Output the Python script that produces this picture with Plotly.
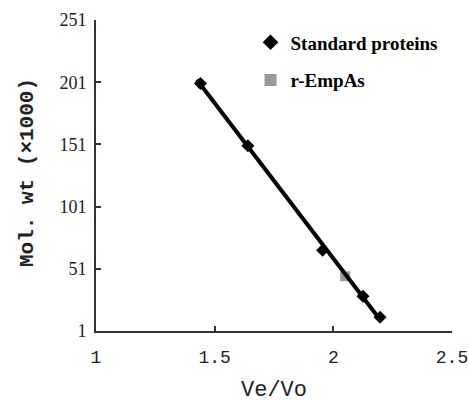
import numpy as np
import plotly.graph_objects as go

# Data
std_x = [1.44, 1.64, 1.955, 2.125, 2.197]
std_y = [200, 150, 66, 29, 12]
samp_x = [2.05]
samp_y = [45]
x_ticks = [1, 1.5, 2, 2.5]
y_ticks = [1, 51, 101, 151, 201, 251]

# linear fit through standard proteins
coef = np.polyfit(std_x, std_y, 1)
fit_x = np.array([min(std_x) - 0.015, max(std_x) + 0.005])
fit_y = np.polyval(coef, fit_x)

fig = go.Figure()
fig.add_trace(go.Scatter(x=std_x, y=std_y, mode="markers", name="Standard proteins",
                         legendgroup="a",
                         marker=dict(symbol="diamond", color="black", size=10)))
fig.add_trace(go.Scatter(x=samp_x, y=samp_y, mode="markers", name="r-EmpAs",
                         legendgroup="b",
                         marker=dict(symbol="square", color="#999999", size=10)))
fig.add_trace(go.Scatter(x=fit_x, y=fit_y, mode="lines", showlegend=False,
                         line=dict(color="black", width=4)))

fig.update_layout(
    width=468, height=402,
    margin=dict(l=96, r=16, t=20, b=71),
    paper_bgcolor="white", plot_bgcolor="white",
    showlegend=True,
    legend=dict(x=0.434, y=0.989, xanchor="left", yanchor="top",
                font=dict(family="Liberation Serif", size=19, color="black", weight="bold"),
                bgcolor="rgba(0,0,0,0)", traceorder="grouped", tracegroupgap=10,
                itemsizing="constant"),
    xaxis=dict(range=[1, 2.5], tickvals=x_ticks, ticktext=["1", "1.5", "2", "2.5"],
               ticks="inside", ticklen=5, tickwidth=1.5, tickcolor="#333",
               showline=True, linecolor="#333", linewidth=2, showgrid=False, zeroline=False,
               automargin=False, ticklabelstandoff=8, ticklabeloverflow="allow",
               tickfont=dict(family="Liberation Mono", size=18, color="#222")),
    yaxis=dict(range=[1, 251], tickvals=y_ticks,
               ticks="inside", ticklen=5, tickwidth=1.5, tickcolor="#333",
               showline=True, linecolor="#333", linewidth=2, showgrid=False, zeroline=False,
               automargin=False, ticklabelstandoff=4, ticklabeloverflow="allow",
               tickfont=dict(family="Liberation Serif", size=18, color="#222")),
    annotations=[
        dict(text="Ve/Vo", xref="paper", yref="paper", x=0.5, y=-0.19,
             xanchor="center", yanchor="middle", showarrow=False,
             font=dict(family="Liberation Mono", size=22, color="#222")),
        dict(text="<b>Mol. wt (×1000)</b>", xref="paper", yref="paper", x=-0.194, y=0.511,
             xanchor="center", yanchor="middle", showarrow=False, textangle=-90,
             font=dict(family="Liberation Mono", size=21, color="#222")),
    ],
)
fig.write_html("out.html", config={"displayModeBar": False},
               post_script="document.body.style.margin='0';document.body.style.overflow='hidden';")
